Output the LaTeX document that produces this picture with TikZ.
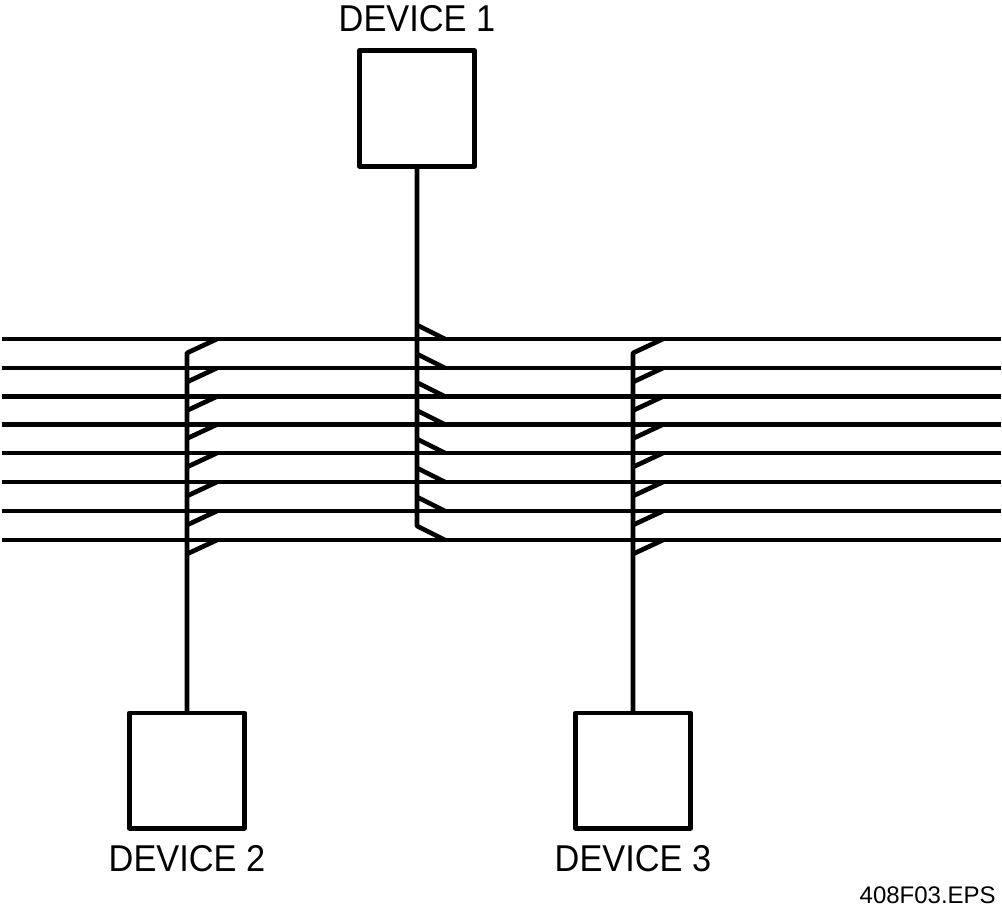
\documentclass[tikz,border=0pt]{standalone}
\usepackage{fontspec}
\setmainfont{Liberation Sans}
\newfontfamily\labfont[FakeStretch=0.92]{Liberation Sans}
\usetikzlibrary{positioning}
\tikzset{
	wire/.style={line width=3.5pt,line join=round},
	devbox/.style={draw,line width=3.5pt,line join=round,minimum size=86.5pt,inner sep=0pt,outer sep=0pt},
	devlabel/.style={inner sep=0pt,outer sep=0pt,font=\labfont\fontsize{28}{28}\selectfont},
}
\begin{document}
\begin{tikzpicture}[x=0.75pt,y=-0.75pt]
		\def\rise{14};
		\def\xa{417};
		\def\xb{187};
		\def\xc{633};
		\useasboundingbox (0,0) rectangle (1002,913);
		
		% devices
		\node[devbox] (devA) at (\xa,108.5) {};
		\node[devbox] (devB) at (\xb,770.5) {};
		\node[devbox] (devC) at (\xc,770.5) {};
		\node[devlabel,above=14pt of devA] (labA) {DEVICE 1};
		\node[devlabel,below=13pt of devB] (labB) {DEVICE 2};
		\node[devlabel,below=13pt of devC] (labC) {DEVICE 3};
		\node[anchor=east,inner sep=0pt,font=\fontsize{18}{18}\selectfont] (figref) at (996,895.5) {408F03.EPS};
		
		% bus lines
		\draw[wire] (2,339) -- (1001,339);
		\draw[wire] (2,368) -- (1001,368);
		\draw[wire] (2,396.5) -- (1001,396.5);
		\draw[wire] (2,424.5) -- (1001,424.5);
		\draw[wire] (2,453) -- (1001,453);
		\draw[wire] (2,482) -- (1001,482);
		\draw[wire] (2,511) -- (1001,511);
		\draw[wire] (2,540) -- (1001,540);
		
		% device 1 taps
		\coordinate (endA) at (\xa,526);
		\draw[wire] (devA) -- (endA) -- (445,540);
		\draw[wire] (\xa,339-\rise) -- (445,339);
		\draw[wire] (\xa,368-\rise) -- (445,368);
		\draw[wire] (\xa,396.5-\rise) -- (445,396.5);
		\draw[wire] (\xa,424.5-\rise) -- (445,424.5);
		\draw[wire] (\xa,453-\rise) -- (445,453);
		\draw[wire] (\xa,482-\rise) -- (445,482);
		\draw[wire] (\xa,511-\rise) -- (445,511);
		
		% device 2 taps
		\coordinate (endB) at (\xb,353);
		\draw[wire] (devB) -- (endB) -- (217,339);
		\draw[wire] (\xb,368+\rise) -- (217,368);
		\draw[wire] (\xb,396.5+\rise) -- (217,396.5);
		\draw[wire] (\xb,424.5+\rise) -- (217,424.5);
		\draw[wire] (\xb,453+\rise) -- (217,453);
		\draw[wire] (\xb,482+\rise) -- (217,482);
		\draw[wire] (\xb,511+\rise) -- (217,511);
		\draw[wire] (\xb,540+\rise) -- (217,540);
		
		% device 3 taps
		\coordinate (endC) at (\xc,353);
		\draw[wire] (devC) -- (endC) -- (663,339);
		\draw[wire] (\xc,368+\rise) -- (663,368);
		\draw[wire] (\xc,396.5+\rise) -- (663,396.5);
		\draw[wire] (\xc,424.5+\rise) -- (663,424.5);
		\draw[wire] (\xc,453+\rise) -- (663,453);
		\draw[wire] (\xc,482+\rise) -- (663,482);
		\draw[wire] (\xc,511+\rise) -- (663,511);
		\draw[wire] (\xc,540+\rise) -- (663,540);
		\end{tikzpicture}
\end{document}
